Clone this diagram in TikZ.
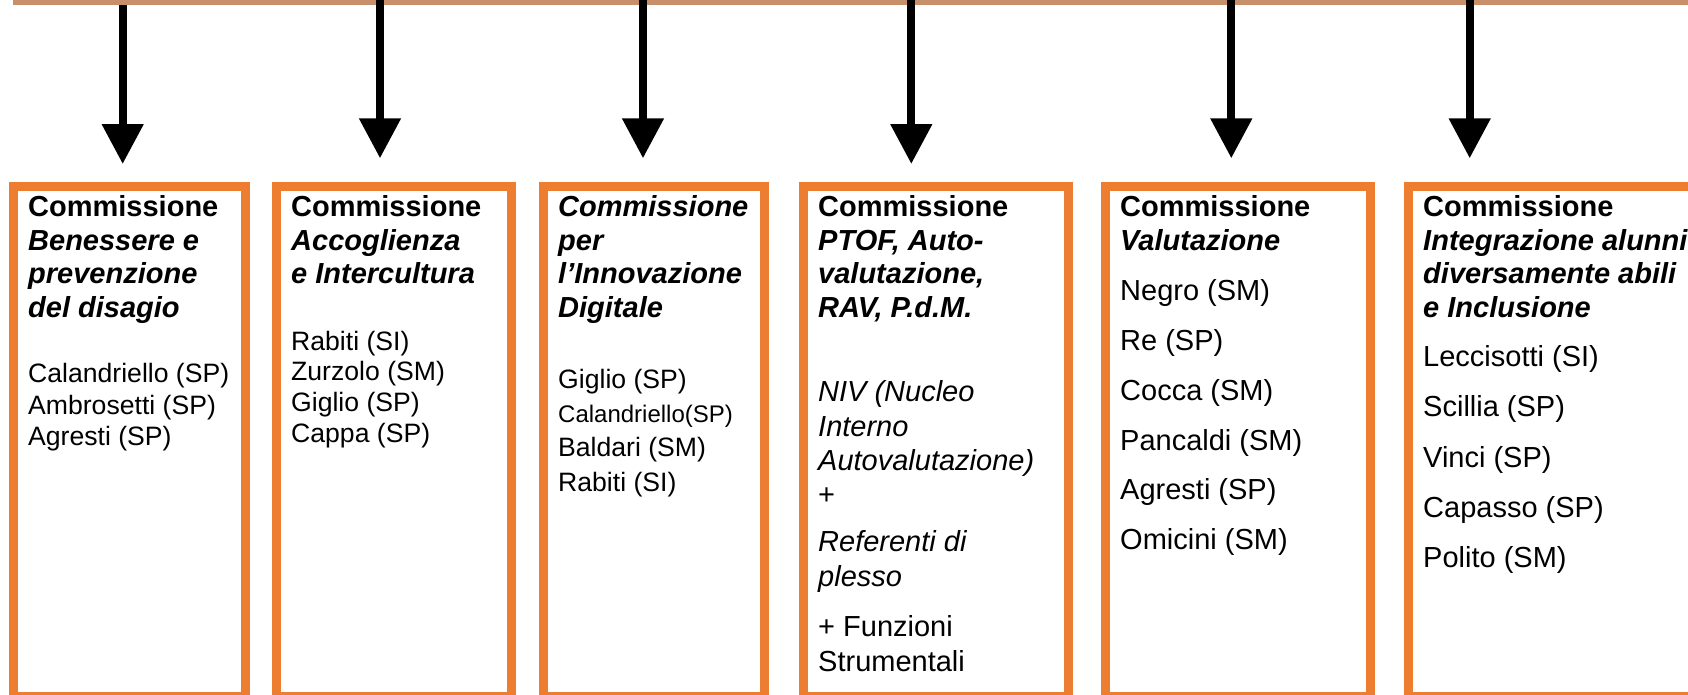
\documentclass[tikz,border=0pt]{standalone}
\usepackage{fontspec}
\setmainfont{Liberation Sans}
\usepackage{tikz}
\usetikzlibrary{arrows.meta,positioning}
\usepackage{xcolor}
\definecolor{BoxOrange}{HTML}{ED7D31}
\definecolor{BarTan}{HTML}{C98F6B}

\tikzset{
  commbox/.style={draw=BoxOrange, line width=9pt, outer sep=4.5pt, inner sep=0pt,
    anchor=north west, minimum height=510pt},
  commhead/.style={anchor=north west, inner sep=0pt, align=left,
    font=\fontsize{29}{33.5}\selectfont\bfseries},
  commlist/.style={anchor=north west, inner sep=0pt, align=left},
  downarrow/.style={line width=8pt, -{Triangle[length=40pt,width=40pt]}},
}

\begin{document}
\begin{tikzpicture}[x={(1pt,0)}, y={(0,-1pt)}]
   \useasboundingbox (0,0) rectangle (1688,694);
   \clip (0,0) rectangle (1688,694);

   \coordinate (s1) at (122.7,5);
   \coordinate (e1) at (122.7,164);
   \coordinate (s2) at (380,0);
   \coordinate (e2) at (380,158.3);
   \coordinate (s3) at (643,0);
   \coordinate (e3) at (643,158.3);
   \coordinate (s4) at (911.3,0);
   \coordinate (e4) at (911.3,164);
   \coordinate (s5) at (1231.3,0);
   \coordinate (e5) at (1231.3,158.3);
   \coordinate (s6) at (1469.7,0);
   \coordinate (e6) at (1469.7,158.3);

   \draw[BarTan, line width=5pt] (13,2.5) -- (1700,2.5);

   \draw[downarrow] (s1) -- (e1);
   \draw[downarrow] (s2) -- (e2);
   \draw[downarrow] (s3) -- (e3);
   \draw[downarrow] (s4) -- (e4);
   \draw[downarrow] (s5) -- (e5);
   \draw[downarrow] (s6) -- (e6);

   \node[commbox, minimum width=232pt] (b1) at (9,181.7) {};
   \node[commhead, below right=11.55pt and 19pt of b1.north west] (h1)
    {\strut Commissione\\ \textit{Benessere e}\\ \textit{prevenzione}\\ \textit{del disagio}};
   \node[commlist, font=\fontsize{26.6}{31.3}\selectfont,
    below right=179.1pt and 19pt of b1.north west] (l1)
    {\strut Calandriello (SP)\\ Ambrosetti (SP)\\ Agresti (SP)};

   \node[commbox, minimum width=235pt] (b2) at (272,181.7) {};
   \node[commhead, below right=11.55pt and 19pt of b2.north west] (h2)
    {\strut Commissione\\ \textit{Accoglienza}\\ \textit{e Intercultura}};
   \node[commlist, font=\fontsize{26.6}{30.6}\selectfont,
    below right=146.9pt and 19pt of b2.north west] (l2)
    {\strut Rabiti (SI)\\ Zurzolo (SM)\\ Giglio (SP)\\ Cappa (SP)};

   \node[commbox, minimum width=221.3pt] (b3) at (539,181.7) {};
   \node[commhead, below right=11.55pt and 19pt of b3.north west] (h3)
    {\strut \textit{Commissione}\\ \textit{per}\\ \textit{l’Innovazione}\\ \textit{Digitale}};
   \node[commlist, font=\fontsize{26.6}{34.2}\selectfont,
    below right=182.7pt and 19pt of b3.north west] (l3)
    {\strut Giglio (SP)\\ {\fontsize{24}{34.2}\selectfont Calandriello(SP)}\\ Baldari (SM)\\ Rabiti (SI)};

   \node[commbox, minimum width=265pt] (b4) at (799,181.7) {};
   \node[commhead, below right=11.55pt and 19pt of b4.north west] (h4)
    {\strut Commissione\\ \textit{PTOF, Auto-}\\ \textit{valutazione,}\\ \textit{RAV, P.d.M.}};
   \node[commlist, font=\fontsize{29}{34.2}\selectfont,
    below right=196.1pt and 19pt of b4.north west] (l4)
    {\strut \textit{NIV (Nucleo}\\ \textit{Interno}\\ \textit{Autovalutazione)}\\ +\\[13.2pt]
     \textit{Referenti di}\\ \textit{plesso}\\[16.5pt] + Funzioni\\ Strumentali};

   \node[commbox, minimum width=265pt] (b5) at (1101,181.7) {};
   \node[commhead, below right=11.55pt and 19pt of b5.north west] (h5)
    {\strut Commissione\\ \textit{Valutazione}};
   \node[commlist, font=\fontsize{29}{49.7}\selectfont,
    below right=84.2pt and 19pt of b5.north west] (l5)
    {\strut Negro (SM)\\ Re (SP)\\ Cocca (SM)\\ Pancaldi (SM)\\ Agresti (SP)\\ Omicini (SM)};

   \node[commbox, minimum width=287pt] (b6) at (1404,181.7) {};
   \node[commhead, below right=11.55pt and 19pt of b6.north west] (h6)
    {\strut Commissione\\ \textit{Integrazione alunni}\\ \textit{diversamente abili}\\ \textit{e Inclusione}};
   \node[commlist, font=\fontsize{29}{50.1}\selectfont,
    below right=149.9pt and 19pt of b6.north west] (l6)
    {\strut Leccisotti (SI)\\ Scillia (SP)\\ Vinci (SP)\\ Capasso (SP)\\ Polito (SM)};
\end{tikzpicture}
\end{document}
